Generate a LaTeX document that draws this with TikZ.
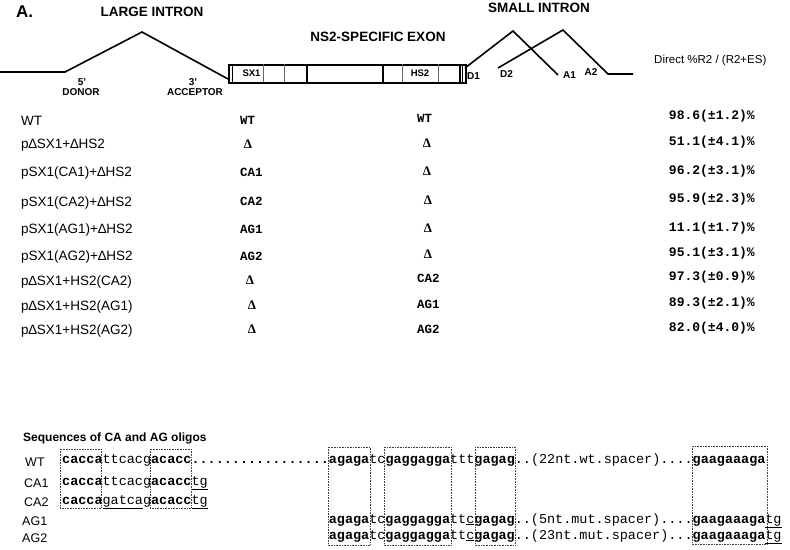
\documentclass[tikz,border=0pt]{standalone}
\usepackage{fontspec}
\setmainfont{Liberation Sans}
\newfontfamily\monof{Liberation Mono}
\newfontfamily\seriff{Liberation Serif}
\newcommand\sqb[1]{\textbf{#1}}
\newcommand\squ[1]{\underline{#1}}
\begin{document}
\begin{tikzpicture}[x=1pt,y=-1pt,
  hd/.style={font=\fontsize{13.5}{16}\selectfont\bfseries, inner sep=0},
  sm/.style={font=\fontsize{10}{12}\selectfont\bfseries, inner sep=0},
  intron/.style={line width=1.6pt, line join=miter},
  rowlbl/.style={font=\fontsize{13.5}{16}\selectfont, anchor=west, inner sep=0},
  coltxt/.style={font=\monof\bfseries\fontsize{12.5}{14}\selectfont, anchor=west, inner sep=0},
  dlt/.style={font=\seriff\bfseries\fontsize{13}{15}\selectfont, inner sep=0},
  pct/.style={font=\monof\bfseries\fontsize{13}{15}\selectfont, anchor=east, inner sep=0},
  seq/.style={font=\monof\fontsize{13.47}{15}\selectfont, anchor=base west, inner sep=0},
  seqlbl/.style={font=\fontsize{12.5}{15}\selectfont, anchor=west, inner sep=0},
  obox/.style={draw=black!75, densely dotted, line width=0.6pt}]
\useasboundingbox (0,0) rectangle (790,549);

% headings
\node[font=\fontsize{17}{20}\selectfont\bfseries, inner sep=0, anchor=west] (A) at (16,12) {A.};
\node[hd] (large) at (152,12) {LARGE INTRON};
\node[hd] (ns2) at (378,37) {NS2-SPECIFIC EXON};
\node[hd] (small) at (539,8) {SMALL INTRON};

% large intron
\coordinate (l0) at (0,72);
\coordinate (don) at (65,72);
\coordinate (lpk) at (142,32);
\coordinate (acc) at (228,79);
\draw[intron] (l0) -- (don) -- (lpk) -- (acc);
\node[sm] (five) at (82,82) {5'};
\node[sm] (donor) at (81,92) {DONOR};
\node[sm] (three) at (193,82) {3'};
\node[sm] (acceptor) at (195,92) {ACCEPTOR};

% exon box
\node[draw, line width=1.6pt, minimum width=237pt, minimum height=18pt, anchor=north west, inner sep=0] (exon) at (228,64) {};
\draw[line width=1.3pt] (232.5,64) -- (232.5,82);
\draw[line width=1.3pt] (460,64) -- (460,82);
\draw[line width=0.6pt] (462.5,64) -- (462.5,82);
\draw[line width=0.7pt, black!60] (263,64) -- (263,82);
\draw[line width=0.7pt, black!60] (284,64) -- (284,82);
\draw[line width=1.4pt] (307,64) -- (307,82);
\draw[line width=1.4pt] (383,64) -- (383,82);
\draw[line width=0.7pt, black!60] (402,64) -- (402,82);
\draw[line width=0.7pt, black!60] (438,64) -- (438,82);
\node[font=\fontsize{9.5}{11}\selectfont\bfseries, inner sep=0] (sx1) at (251.5,73) {SX1};
\node[font=\fontsize{9.5}{11}\selectfont\bfseries, inner sep=0] (hs2) at (420,73) {HS2};

% small intron
\coordinate (d1) at (465,68);
\coordinate (spk1) at (513,31);
\coordinate (a1) at (558,75);
\coordinate (d2) at (498,68);
\coordinate (spk2) at (563,30);
\coordinate (a2) at (608,74);
\coordinate (rend) at (633,74);
\draw[intron] (d1) -- (spk1) -- (a1);
\draw[intron] (d2) -- (spk2) -- (a2) -- (rend);
\node[sm] (D1) at (473.5,76) {D1};
\node[sm] (D2) at (506.5,74) {D2};
\node[sm] (A1) at (569.5,75) {A1};
\node[sm] (A2) at (591,72) {A2};

\node[font=\fontsize{11.5}{13}\selectfont, anchor=west, inner sep=0] (dir) at (654,61) {Direct \%R2 / (R2+ES)};

% table
\node[rowlbl] (r1) at (21,121) {WT};
\node[rowlbl] (r2) at (21,145) {p∆SX1+∆HS2};
\node[rowlbl] (r3) at (21,173) {pSX1(CA1)+∆HS2};
\node[rowlbl] (r4) at (21,203) {pSX1(CA2)+∆HS2};
\node[rowlbl] (r5) at (21,230) {pSX1(AG1)+∆HS2};
\node[rowlbl] (r6) at (21,257) {pSX1(AG2)+∆HS2};
\node[rowlbl] (r7) at (21,282) {p∆SX1+HS2(CA2)};
\node[rowlbl] (r8) at (21,307) {p∆SX1+HS2(AG1)};
\node[rowlbl] (r9) at (21,331) {p∆SX1+HS2(AG2)};

\node[coltxt] (c1a) at (240,120) {WT};
\node[dlt] (c2a) at (248,144) {Δ};
\node[coltxt] (c3a) at (240,172) {CA1};
\node[coltxt] (c4a) at (240,201) {CA2};
\node[coltxt] (c5a) at (240,229) {AG1};
\node[coltxt] (c6a) at (240,256) {AG2};
\node[dlt] (c7a) at (250,280) {Δ};
\node[dlt] (c8a) at (252,305) {Δ};
\node[dlt] (c9a) at (252,329) {Δ};

\node[coltxt] (c1b) at (417,118) {WT};
\node[dlt] (c2b) at (427,143) {Δ};
\node[dlt] (c3b) at (427,171) {Δ};
\node[dlt] (c4b) at (428,200) {Δ};
\node[dlt] (c5b) at (428,228) {Δ};
\node[dlt] (c6b) at (428,254) {Δ};
\node[coltxt] (c7b) at (417,278) {CA2};
\node[coltxt] (c8b) at (417,304) {AG1};
\node[coltxt] (c9b) at (417,329) {AG2};

\node[pct] (p1) at (755,116) {98.6(±1.2)\%};
\node[pct] (p2) at (755,142) {51.1(±4.1)\%};
\node[pct] (p3) at (755,171) {96.2(±3.1)\%};
\node[pct] (p4) at (755,199) {95.9(±2.3)\%};
\node[pct] (p5) at (755,228) {11.1(±1.7)\%};
\node[pct] (p6) at (755,253) {95.1(±3.1)\%};
\node[pct] (p7) at (755,277) {97.3(±0.9)\%};
\node[pct] (p8) at (755,303) {89.3(±2.1)\%};
\node[pct] (p9) at (755,328) {82.0(±4.0)\%};

% sequences
\node[font=\fontsize{12}{14}\selectfont\bfseries, anchor=west, inner sep=0] (title) at (23,438) {Sequences of CA and AG oligos};
\node[seqlbl] (lWT) at (25,462) {WT};
\node[seqlbl] (lCA1) at (24,483) {CA1};
\node[seqlbl] (lCA2) at (24,502) {CA2};
\node[seqlbl] (lAG1) at (22,521) {AG1};
\node[seqlbl] (lAG2) at (22,538) {AG2};

\node[seq] (sWT) at (62,463) {\sqb{cacca}ttcacg\sqb{acacc.................agaga}tc\sqb{gaggagga}ttt\sqb{gagag}..(22nt.wt.spacer)....\sqb{gaagaaaga}};
\node[seq] (sCA1) at (62,485) {\sqb{cacca}ttcacg\sqb{acacc}\squ{tg}};
\node[seq] (sCA2) at (62,504) {\sqb{cacca}\squ{gatca}g\sqb{acacc}\squ{tg}};
\node[seq] (sAG1) at (328.7,523) {\sqb{agaga}tc\sqb{gaggagga}tt\squ{c}\sqb{gagag}..(5nt.mut.spacer)....\sqb{gaagaaaga}\squ{tg}};
\node[seq] (sAG2) at (328.7,539) {\sqb{agaga}tc\sqb{gaggagga}tt\squ{c}\sqb{gagag}..(23nt.mut.spacer)...\sqb{gaagaaaga}\squ{tg}};

\draw[obox] (60,449) rectangle (101,508);
\draw[obox] (150,449) rectangle (191,508);
\draw[obox] (328,447) rectangle (370,545);
\draw[obox] (384,447) rectangle (451,545);
\draw[obox] (475,447) rectangle (515,545);
\draw[obox] (692,446) rectangle (767,544);
\end{tikzpicture}
\end{document}
